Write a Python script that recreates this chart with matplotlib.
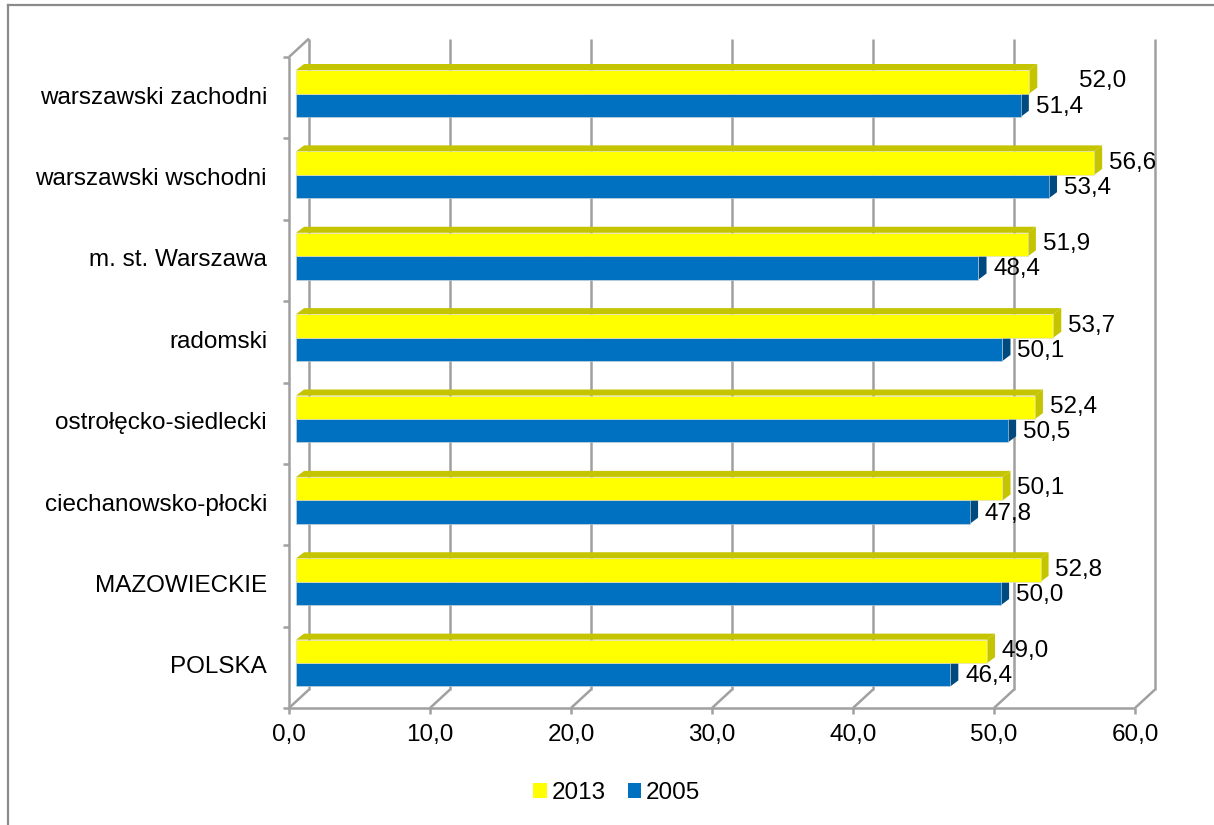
import matplotlib
matplotlib.use("Agg")
import matplotlib.pyplot as plt
from matplotlib.patches import Polygon, Patch
from matplotlib.lines import Line2D

plt.rcParams["font.family"] = ["Liberation Sans", "DejaVu Sans"]
plt.rcParams["font.size"] = 17.5

# dane (od dołu do góry)
categories = ["POLSKA", "MAZOWIECKIE", "ciechanowsko-płocki", "ostrołęcko-siedlecki",
              "radomski", "m. st. Warszawa", "warszawski wschodni", "warszawski zachodni"]
values_2013 = [49.0, 52.8, 50.1, 52.4, 53.7, 51.9, 56.6, 52.0]
values_2005 = [46.4, 50.0, 47.8, 50.5, 50.1, 48.4, 53.4, 51.4]
x_ticks = [0, 10, 20, 30, 40, 50, 60]
series_names = ["2013", "2005"]

YELLOW, YELLOW_DARK = "#FFFF00", "#C4C400"
BLUE, BLUE_DARK = "#0070C0", "#004A80"
GRID = "#A0A0A0"

# głębokość "3D" w jednostkach danych
WALL_DX, WALL_DY = 1.42, 0.227
BAR_X0 = 0.5
BAR_DX, BAR_DY = 0.57, 0.074


def fmt(v):
    return f"{v:.1f}".replace(".", ",")


def draw_bar(ax, y0, y1, length, face, dark):
    x0, x1 = BAR_X0, BAR_X0 + length
    top = Polygon([(x0, y1), (x1, y1), (x1 + BAR_DX, y1 + BAR_DY), (x0 + BAR_DX, y1 + BAR_DY)],
                  closed=True, facecolor=dark, edgecolor="none", clip_on=False, zorder=3)
    side = Polygon([(x1, y0), (x1 + BAR_DX, y0 + BAR_DY), (x1 + BAR_DX, y1 + BAR_DY), (x1, y1)],
                   closed=True, facecolor=dark, edgecolor="none", clip_on=False, zorder=3)
    front = Polygon([(x0, y0), (x1, y0), (x1, y1), (x0, y1)],
                    closed=True, facecolor=face, edgecolor="#D8D8D8", lw=0.4, clip_on=False, zorder=4)
    for p in (top, side, front):
        ax.add_patch(p)


fig = plt.figure(figsize=(12.14, 8.25), dpi=100)
ax = fig.add_axes([289 / 1214, 117 / 825, 846 / 1214, 651 / 825])
n = len(categories)
ax.set_xlim(0, 60)
ax.set_ylim(0, n)
ax.axis("off")

# ściany i siatka
line_kw = dict(color=GRID, lw=1.8, clip_on=False, zorder=1, solid_capstyle="butt")
for v in x_ticks:
    ax.plot([v + WALL_DX, v + WALL_DX], [WALL_DY, n + WALL_DY], **line_kw)
    ax.plot([v, v + WALL_DX], [0, WALL_DY], **line_kw)
    ax.plot([v, v], [0, -0.075], **line_kw)
    ax.text(v, -0.33, fmt(v), ha="center", va="center")
ax.plot([0, 60], [0, 0], **line_kw)
ax.plot([0, 0], [0, n], **line_kw)
ax.plot([0, WALL_DX], [n, n + WALL_DY], **line_kw)
for i in range(n + 1):
    ax.plot([-0.45, 0], [i, i], **line_kw)

# słupki
for i, cat in enumerate(categories):
    draw_bar(ax, i + 0.265, i + 0.55, values_2005[i], BLUE, BLUE_DARK)
    draw_bar(ax, i + 0.55, i + 0.84, values_2013[i], YELLOW, YELLOW_DARK)
    ax.text(-1.56, i + 0.5, cat, ha="right", va="center")

    # etykieta 2013 dla "warszawski zachodni" jest przesunięta w prawo
    off = 3.5 if cat == "warszawski zachodni" else 1.06
    ax.text(values_2013[i] + BAR_X0 + off, i + 0.70, fmt(values_2013[i]),
            ha="left", va="center", zorder=5)
    ax.text(values_2005[i] + BAR_X0 + 1.06, i + 0.39, fmt(values_2005[i]),
            ha="left", va="center", zorder=5)

handles = [Patch(facecolor=YELLOW, edgecolor="none"), Patch(facecolor=BLUE, edgecolor="none")]
fig.legend(handles, series_names, loc="center", bbox_to_anchor=(0.508, 0.039), ncol=2,
           frameon=False, handlelength=0.55, handleheight=0.55, handletextpad=0.2,
           columnspacing=0.9, fontsize=17.5)

# ramka wykresu
frame_kw = dict(color="#8A8A8A", lw=1.6, transform=fig.transFigure)
fig.add_artist(Line2D([8 / 1214, 1], [1 - 5 / 825, 1 - 5 / 825], **frame_kw))
fig.add_artist(Line2D([8 / 1214, 8 / 1214], [0, 1 - 5 / 825], **frame_kw))

fig.savefig("out.png", dpi=100)
